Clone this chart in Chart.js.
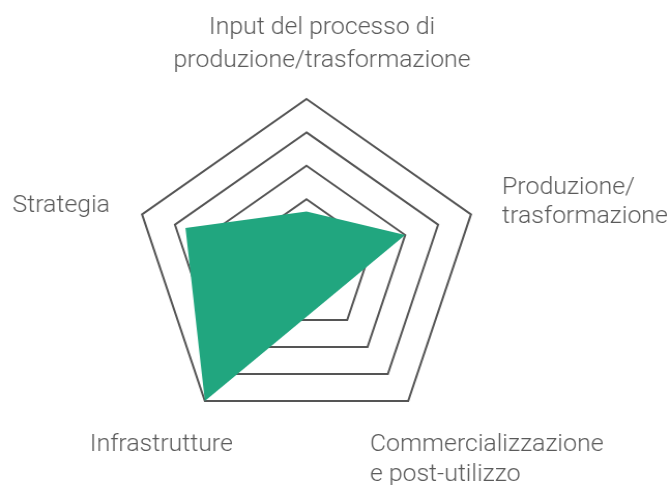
<!DOCTYPE html>
<html lang="it">
<head>
<meta charset="utf-8">
<script src="https://cdn.jsdelivr.net/npm/chart.js@4"></script>
<style>
    html, body { margin: 0; padding: 0; background: #fff; overflow: hidden; }
    /* il grafico originale è leggermente allargato in orizzontale */
    #wrap { width: 647px; height: 485px; transform: scaleX(1.0355); transform-origin: 0 0; }
</style>
</head>
<body>
<div id="wrap"><canvas id="radarChart"></canvas></div>
<script>
// Dati del grafico
const categories = [
    ['Input del processo di', 'produzione/trasformazione'],
    ['Produzione/', 'trasformazione'],
    ['Commercializzazione', 'e post-utilizzo'],
    ['Infrastrutture'],
    ['Strategia']
];
const values = [1.63, 3, 1.16, 5, 3.68];
const gridLevels = [2, 3, 4, 5];

const fillColor = '#21a67f';
const lineColor = '#555555';
const textColor = '#5a5a5a';

// Posizione delle etichette rispetto al vertice esterno di ogni asse
const labelLayout = [
    { align: 'center', dx: 15, dy: -65, lh: 33 },
    { align: 'left', dx: 30, dy: -20, lh: 29 },
    { align: 'left', dx: -37, dy: 50, lh: 30 },
    { align: 'center', dx: -42, dy: 50, lh: 30 },
    { align: 'right', dx: -31, dy: -2, lh: 30 }
];

// Plugin per disegnare le etichette degli assi
const axisLabels = {
    id: 'axisLabels',
    afterDraw(chart) {
        const scale = chart.scales.r;
        const ctx = chart.ctx;
        ctx.save();
        ctx.fillStyle = textColor;
        ctx.font = '300 24px Roboto';
        ctx.textBaseline = 'alphabetic';
        categories.forEach((lines, i) => {
            const p = scale.getPointPosition(i, scale.drawingArea);
            const l = labelLayout[i];
            ctx.textAlign = l.align;
            lines.forEach((line, j) => {
                ctx.fillText(line, p.x + l.dx, p.y + l.dy + j * l.lh);
            });
        });
        ctx.restore();
    }
};

new Chart(document.getElementById('radarChart'), {
    type: 'radar',
    data: {
        labels: categories,
        datasets: [{
            data: values,
            backgroundColor: fillColor,
            borderWidth: 0,
            pointRadius: 0,
            fill: true
        }]
    },
    options: {
        responsive: true,
        maintainAspectRatio: false,
        animation: false,
        layout: {
            padding: { top: 99, bottom: 52, left: 129, right: 184 }
        },
        plugins: {
            legend: { display: false },
            tooltip: { enabled: false }
        },
        scales: {
            r: {
                min: 0,
                max: 5,
                ticks: { display: false, stepSize: 1 },
                angleLines: { display: false },
                grid: {
                    color: ctx => gridLevels.includes(ctx.tick.value) ? lineColor : 'transparent',
                    lineWidth: 2
                },
                pointLabels: { display: false }
            }
        }
    },
    plugins: [axisLabels]
});
</script>
</body>
</html>
